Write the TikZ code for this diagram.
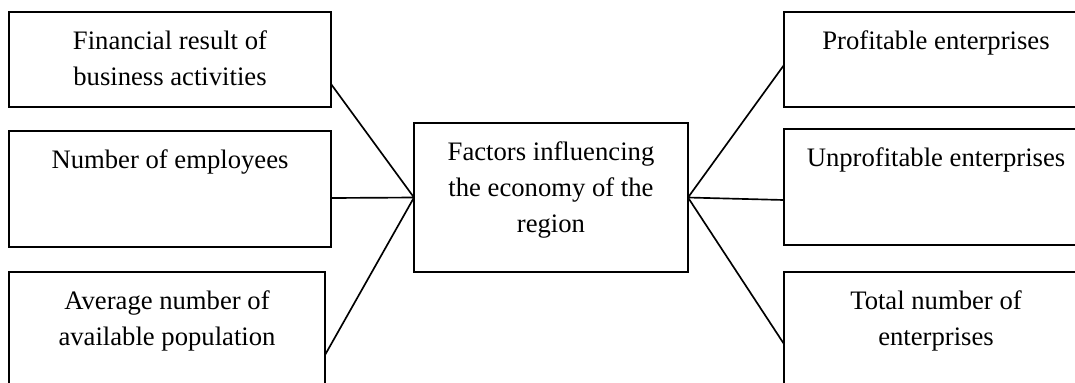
\documentclass[tikz,border=0pt]{standalone}
\usepackage{fontspec}
\setmainfont{Liberation Serif}
\usetikzlibrary{calc}
\def\pxu{0.45pt}
\tikzset{
  box/.style={draw, line width=0.8pt, inner sep=0pt, outer sep=0pt, anchor=north west},
  txt/.style={align=center, inner sep=0pt, anchor=north, font=\fontsize{12}{16.3}\selectfont},
  conn/.style={line width=0.75pt}
}
\begin{document}
\begin{tikzpicture}[x=0.45pt, y=-0.45pt]
\useasboundingbox (0,0) rectangle (1075,382);
\clip (0,0) rectangle (1075,382);
% left boxes
\node[box, minimum width=322*\pxu, minimum height=95*\pxu] (l1) at (9,12) {};
\node[box, minimum width=322*\pxu, minimum height=116*\pxu] (l2) at (9,131) {};
\node[box, minimum width=316*\pxu, minimum height=160*\pxu] (l3) at (9,272) {};
% center
\node[box, minimum width=274*\pxu, minimum height=149*\pxu] (c) at (414,123) {};
% right boxes
\node[box, minimum width=304*\pxu, minimum height=95*\pxu] (r1) at (784,12) {};
\node[box, minimum width=304*\pxu, minimum height=116*\pxu] (r2) at (784,129) {};
\node[box, minimum width=304*\pxu, minimum height=160*\pxu] (r3) at (784,272) {};
% texts
\node[txt] (l1t) at ($(l1.north)+(0,18)$) {Financial result of\\business activities};
\node[txt] (l2t) at ($(l2.north)+(0,18)$) {Number of employees};
\node[txt] (l3t) at ($(l3.north)+(0,18)$) {Average number of\\available population};
\node[txt] (ct) at ($(c.north)+(0,18)$) {Factors influencing\\the economy of the\\region};
\node[txt] (r1t) at ($(r1.north)+(0,18)$) {Profitable enterprises};
\node[txt] (r2t) at ($(r2.north)+(0,18)$) {Unprofitable enterprises};
\node[txt] (r3t) at ($(r3.north)+(0,18)$) {Total number of\\enterprises};
% connectors
\draw[conn] ($(l1.north east)+(0,72)$) -- (c.west);
\draw[conn] ($(l2.north east)+(0,67)$) -- (c.west);
\draw[conn] ($(l3.north east)+(0,83)$) -- (c.west);
\draw[conn] (c.east) -- ($(r1.north west)+(0,53)$);
\draw[conn] (c.east) -- ($(r2.north west)+(0,71)$);
\draw[conn] (c.east) -- ($(r3.north west)+(0,72)$);
\end{tikzpicture}
\end{document}
